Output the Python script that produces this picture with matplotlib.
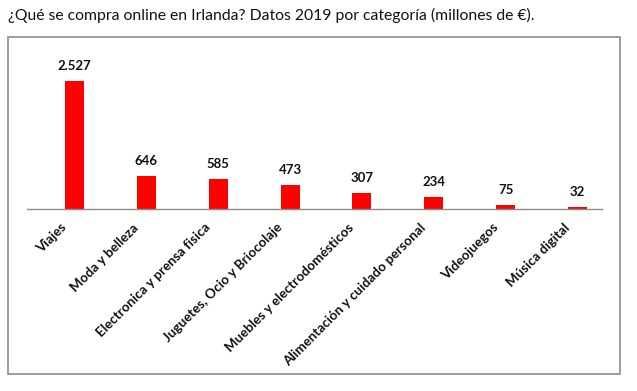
import matplotlib
matplotlib.use("Agg")
import matplotlib.pyplot as plt
from matplotlib.patches import Rectangle
from matplotlib.transforms import ScaledTranslation

categories = ["Viajes", "Moda y belleza", "Electronica y prensa fisica",
              "Juguetes, Ocio y Briocolaje", "Muebles y electrodomésticos",
              "Alimentación y cuidado personal", "Videojuegos", "Música digital"]
values = [2527, 646, 585, 473, 307, 234, 75, 32]
value_labels = ["2.527", "646", "585", "473", "307", "234", "75", "32"]

W, H = 637, 391
fig = plt.figure(figsize=(W / 100, H / 100), dpi=100)
plt.rcParams['font.family'] = ['Lato', 'DejaVu Sans']

# outer frame
fig.patches.append(Rectangle((8 / W, 1 - 374 / H), (620 - 8) / W, (374 - 37) / H,
                             transform=fig.transFigure, fill=False,
                             edgecolor="#8c8c8c", linewidth=1.2))

fig.text(8 / W, 1 - 15 / H, "¿Qué se compra online en Irlanda? Datos 2019 por categoría (millones de €).",
         fontsize=11.3, va="center", ha="left", color="#111111")

left, right = 27 / W, 602 / W
bottom, top = 1 - 209 / H, 1 - 60 / H
ax = fig.add_axes([left, bottom, right - left, top - bottom])
x = list(range(len(categories)))
ax.bar(x, values, width=0.265, color="#ff0000")
ax.set_xlim(-0.66, 7.34)
ax.set_ylim(0, 2527 * 149 / 128)
for xi, v, lab in zip(x, values, value_labels):
    ax.annotate(lab, (xi, v), xytext=(0, 6.5), textcoords="offset points",
                ha="center", va="bottom", fontsize=9.5, fontweight="bold", color="#111111")

for s in ["top", "right", "left"]:
    ax.spines[s].set_visible(False)
ax.spines["bottom"].set_color("#8c8c8c")
ax.spines["bottom"].set_linewidth(1.0)
ax.set_yticks([])
ax.set_xticks(x)
ax.set_xticklabels(categories, rotation=45, ha="right", rotation_mode="anchor",
                   fontsize=9.6, fontweight="bold", color="#111111")
ax.tick_params(axis="x", length=0, pad=6)
off = ScaledTranslation(-14 / 100, -4 / 100, fig.dpi_scale_trans)
for t in ax.get_xticklabels():
    t.set_transform(t.get_transform() + off)

fig.savefig("out.png", dpi=100)
